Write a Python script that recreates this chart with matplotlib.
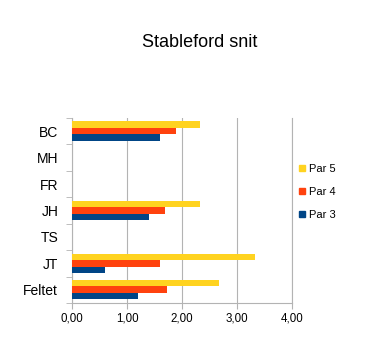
import numpy as np
import matplotlib
matplotlib.use("Agg")
import matplotlib.pyplot as plt
from matplotlib.lines import Line2D

plt.rcParams['font.family'] = ['Liberation Sans', 'DejaVu Sans']

# Data
spillere = ['BC', 'MH', 'FR', 'JH', 'TS', 'JT', 'Feltet']
par3 = [1.60, 0, 0, 1.40, 0, 0.60, 1.20]
par4 = [1.90, 0, 0, 1.70, 0, 1.60, 1.73]
par5 = [2.33, 0, 0, 2.33, 0, 3.33, 2.67]
serier = ['Par 5', 'Par 4', 'Par 3']
farver = ['#FFD320', '#FF420E', '#004586']
x_ticks = [0, 1, 2, 3, 4]

fig = plt.figure(figsize=(3.66, 3.47), dpi=100)
ax = fig.add_axes([0.197, 0.127, 0.6, 0.533])

y = np.arange(len(spillere))
h = 0.245
for i, (navn, vals, farve) in enumerate(zip(serier, [par5, par4, par3], farver)):
    ax.barh(y + (i - 1) * h, vals, height=h, color=farve, label=navn, zorder=3)

ax.set_ylim(len(spillere) - 0.5, -0.5)
ax.set_xlim(0, 4)
ax.set_xticks(x_ticks)
ax.set_xticklabels([f"{v:.2f}".replace('.', ',') for v in x_ticks], fontsize=8.3)
ax.set_yticks(y)
ax.set_yticklabels(spillere, fontsize=10)
ax.set_yticks(np.arange(-0.5, len(spillere)), minor=True)
ax.tick_params(axis='y', which='major', length=0, pad=10)
ax.tick_params(axis='y', which='minor', length=4, color='#b3b3b3')
ax.tick_params(axis='x', length=4, color='#b3b3b3', pad=3)

ax.grid(axis='x', color='#b3b3b3', linewidth=0.8, zorder=0)
ax.spines['top'].set_visible(False)
for s in ['left', 'bottom', 'right']:
    ax.spines[s].set_color('#b3b3b3')

handles = [Line2D([0], [0], marker='s', color='w', markerfacecolor=f, markeredgecolor=f,
                  markersize=5, label=n) for n, f in zip(serier, farver)]
fig.legend(handles=handles, loc='center left', bbox_to_anchor=(0.805, 0.447),
           frameon=False, fontsize=8, handlelength=0.6, handletextpad=0.3,
           labelspacing=1.15, borderaxespad=0)

fig.text(0.545, 0.865, 'Stableford snit', ha='center', va='baseline', fontsize=13)

fig.savefig('out.png', dpi=100, facecolor='white')
